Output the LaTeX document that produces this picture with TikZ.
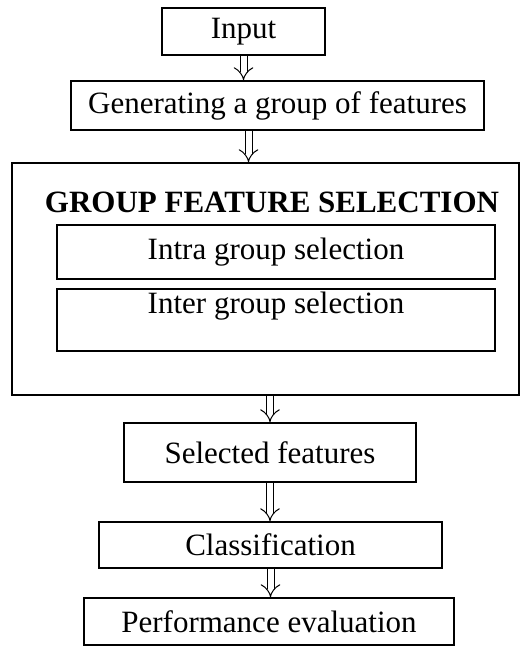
\documentclass[tikz,border=0pt]{standalone}
\usepackage{fontspec}
\setmainfont{Liberation Serif}
\usetikzlibrary{arrows.meta}

\begin{document}
\begin{tikzpicture}[x=0.5pt, y=-0.5pt, font=\fontsize{15.5}{18}\selectfont,
        box/.style={draw, line width=0.8pt, inner sep=0pt},
        hollow/.style={double, double distance=3pt, line width=0.5pt, -{Implies}}]
    \useasboundingbox (0,0) rectangle (521,652);
    \node [box, minimum width=81.5pt, minimum height=23.5pt] (input) at (243.5, 31.5) {Input};
    \node [box, minimum width=206.5pt, minimum height=24.5pt] (gen) at (277.5, 105.5) {Generating a group of features};
    % group feature selection block
    \node [box, minimum width=253.5pt, minimum height=116pt] (group) at (265.5, 279) {};
    \node [font=\fontsize{15.5}{18}\selectfont\bfseries] (title) at (272, 202) {GROUP FEATURE SELECTION};
    \node [box, minimum width=219pt, minimum height=27pt] (intra) at (276, 252) {Intra group selection};
    \node [box, minimum width=219pt, minimum height=31pt] (inter) at (276, 320) {};
    \node (interlabel) at (276, 306) {Inter group selection};
    \node [box, minimum width=146pt, minimum height=29.5pt] (sel) at (270, 452.5) {Selected features};
    \node [box, minimum width=171.5pt, minimum height=23pt] (class) at (270.5, 545) {Classification};
    \node [box, minimum width=185pt, minimum height=23.5pt] (perf) at (269, 621.5) {Performance evaluation};
    % arrows
    \draw [hollow] (input.south) -- (input.south |- gen.north);
    \draw [hollow] ([xshift=2.5pt]input.south |- gen.south) -- ([xshift=2.5pt]input.south |- group.north);
    \draw [hollow] (sel.north |- group.south) -- (sel.north);
    \draw [hollow] (sel.south) -- (sel.south |- class.north);
    \draw [hollow] (class.south) -- (class.south |- perf.north);
\end{tikzpicture}
\end{document}
